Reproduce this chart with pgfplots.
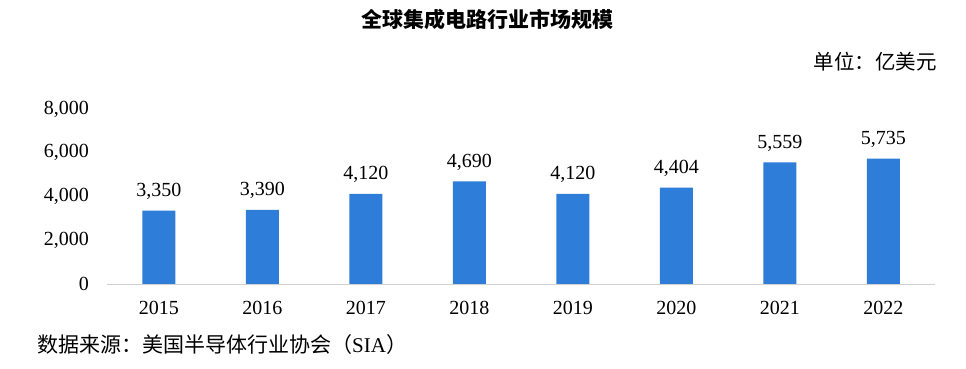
\documentclass[border=0pt]{standalone}
\usepackage{pgfplots}
\pgfplotsset{compat=1.18}
\usepackage{fontspec}
\setmainfont{Liberation Serif}
\newfontfamily\cjk{Noto Sans CJK SC}
\definecolor{barblue}{HTML}{2E7DD8}
\definecolor{basegray}{HTML}{D0D0D0}
\begin{document}
\begin{tikzpicture}
\useasboundingbox (0,0) rectangle (966pt,369pt);
\begin{axis}[
  at={(107pt,85pt)}, anchor=south west,
  scale only axis, width=828pt, height=175pt,
  xmin=-0.5, xmax=7.5, ymin=0, ymax=8000,
  axis lines*=left,
  x axis line style={draw=basegray, line width=0.8pt, -},
  y axis line style={draw=none},
  major tick length=0pt,
  xtick=data,
  xticklabels={2015,2016,2017,2018,2019,2020,2021,2022},
  ytick={0,2000,4000,6000,8000},
  /pgf/number format/.cd, 1000 sep={,}, assume math mode=true, /pgfplots/.cd,
  ticklabel style={font=\fontsize{20}{24}\selectfont},
  yticklabel style={anchor=east, inner sep=0pt, xshift=-18pt},
  xticklabel style={anchor=center, inner sep=0pt, yshift=-24pt},
  ybar, bar width=33pt,
  nodes near coords,
  nodes near coords style={font=\fontsize{20}{24}\selectfont, anchor=base, inner sep=0pt, yshift=14pt, /pgf/number format/1000 sep={,}},
  clip=false,
]
\addplot[fill=barblue, draw=none] coordinates {(0,3350) (1,3390) (2,4120) (3,4690) (4,4120) (5,4404) (6,5559) (7,5735)};
\end{axis}
\node[anchor=center, inner sep=0pt] at (487pt,349pt) {\cjk\bfseries\fontsize{21}{24}\selectfont 全球集成电路行业市场规模};
\node[anchor=east, inner sep=0pt] at (937pt,307pt) {\cjk\fontsize{20.5}{24}\selectfont 单位：亿美元};
\node[anchor=west, inner sep=0pt] at (37pt,24pt) {\fontsize{21}{24}\selectfont{\cjk 数据来源：美国半导体行业协会（}SIA{\cjk ）}};
\end{tikzpicture}
\end{document}
